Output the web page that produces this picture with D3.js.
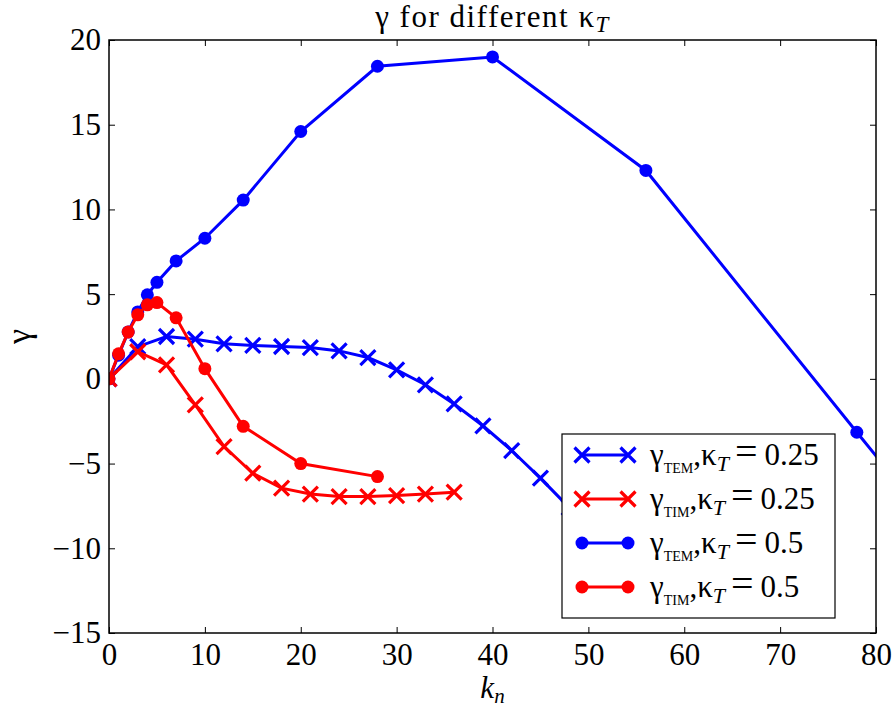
<!DOCTYPE html>
<meta charset="utf-8">
<head>
<style>
  body { margin: 0; background: #fff; }
  svg text { font-family: "Liberation Serif", "Times New Roman", Times, "DejaVu Serif", serif !important; }
</style>
</head>
<script src="https://d3js.org/d3.v7.min.js"></script>

<div id="chart"></div>

<script>
    // data
    var knTem25 = [0, 3, 6, 9, 12, 15, 18, 21, 24, 27, 30, 33, 36, 39, 42, 45, 48, 51];
    var gTem25 = [0, 1.9, 2.5, 2.34, 2.07, 1.97, 1.91, 1.85, 1.65, 1.26, 0.53, -0.35, -1.48, -2.77, -4.23, -5.86, -7.6, -9.4];

    var knTim25 = [0, 3, 6, 9, 12, 15, 18, 21, 24, 27, 30, 33, 36];
    var gTim25 = [0, 1.6, 0.83, -1.53, -4.0, -5.57, -6.45, -6.8, -6.95, -6.95, -6.89, -6.8, -6.69];

    var knTem5 = [0, 1, 2, 3, 4, 5, 7, 10, 14, 20, 28, 40, 56, 78, 90];
    var gTem5 = [0, 1.4, 2.77, 3.95, 4.96, 5.7, 6.96, 8.3, 10.55, 14.6, 18.45, 19.0, 12.3, -3.15, -11.5];

    var knTim5 = [0, 1, 2, 3, 4, 5, 7, 10, 14, 20, 28];
    var gTim5 = [0, 1.48, 2.76, 3.78, 4.37, 4.5, 3.6, 0.6, -2.8, -5.0, -5.77];

    var xTicks = [0, 10, 20, 30, 40, 50, 60, 70, 80];
    var yTicks = [-15, -10, -5, 0, 5, 10, 15, 20];

    var series = [
        {kn: knTem25, g: gTem25, color: '#0000ff', marker: 'x', sub: 'TEM', kt: '0.25'},
        {kn: knTim25, g: gTim25, color: '#ff0000', marker: 'x', sub: 'TIM', kt: '0.25'},
        {kn: knTem5, g: gTem5, color: '#0000ff', marker: 'o', sub: 'TEM', kt: '0.5'},
        {kn: knTim5, g: gTim5, color: '#ff0000', marker: 'o', sub: 'TIM', kt: '0.5'}
    ];

    var serif = '"Liberation Serif", "Times New Roman", Times, serif';

    var margin = {top: 40, right: 20, bottom: 76, left: 109},
        W = 896, H = 709,
        width = W - margin.left - margin.right,
        height = H - margin.top - margin.bottom;

    var svg = d3.select('#chart').append('svg')
        .attr('width', W)
        .attr('height', H)
        .attr('font-family', serif);

    var g = svg.append('g')
        .attr('transform', 'translate(' + margin.left + ',' + margin.top + ')');

    var x = d3.scaleLinear().domain([0, 80]).range([0, width]);
    var y = d3.scaleLinear().domain([-15, 20]).range([height, 0]);

    svg.append('defs').append('clipPath').attr('id', 'clip')
        .append('rect').attr('width', width).attr('height', height);

    var fmt = function(d) { return d < 0 ? '\u2212' + Math.abs(d) : '' + d; };

    // ticks on all sides, pointing inwards
    g.append('g').attr('transform', 'translate(0,' + height + ')')
        .call(d3.axisBottom(x).tickValues(xTicks).tickSize(-6).tickPadding(10).tickFormat(fmt));
    g.append('g')
        .call(d3.axisTop(x).tickValues(xTicks).tickSize(-6).tickFormat(''));
    g.append('g')
        .call(d3.axisLeft(y).tickValues(yTicks).tickSize(-6).tickPadding(8).tickFormat(fmt));
    g.append('g').attr('transform', 'translate(' + width + ',0)')
        .call(d3.axisRight(y).tickValues(yTicks).tickSize(-6).tickFormat(''));

    g.selectAll('.domain').remove();
    g.selectAll('.tick line').attr('stroke', '#000').attr('stroke-width', 1);
    g.selectAll('g').attr('font-family', serif).attr('font-size', 31);
    g.selectAll('.tick text').attr('fill', '#000');

    var plot = g.append('g').attr('clip-path', 'url(#clip)');

    var line = d3.line()
        .x(function(d) { return x(d[0]); })
        .y(function(d) { return y(d[1]); });

    function drawMarker(sel, marker, color, r) {
        if (marker === 'o') {
            sel.append('circle').attr('r', r).attr('fill', color);
        } else {
            sel.append('path')
                .attr('d', 'M' + (-r) + ',' + (-r) + 'L' + r + ',' + r + 'M' + (-r) + ',' + r + 'L' + r + ',' + (-r))
                .attr('stroke', color)
                .attr('stroke-width', 3.2)
                .attr('fill', 'none');
        }
    }

    series.forEach(function(s) {
        var pts = s.kn.map(function(k, i) { return [k, s.g[i]]; });
        var grp = plot.append('g');
        grp.append('path')
            .datum(pts)
            .attr('d', line)
            .attr('fill', 'none')
            .attr('stroke', s.color)
            .attr('stroke-width', 3);
        grp.selectAll('g.m').data(pts).enter().append('g')
            .attr('transform', function(d) { return 'translate(' + x(d[0]) + ',' + y(d[1]) + ')'; })
            .each(function() { drawMarker(d3.select(this), s.marker, s.color, s.marker === 'o' ? 6.5 : 7.5); });
    });

    // frame
    g.append('rect')
        .attr('width', width).attr('height', height)
        .attr('fill', 'none').attr('stroke', '#000').attr('stroke-width', 1.5);

    // legend
    var lg = g.append('g').attr('transform', 'translate(' + (562 - margin.left) + ',' + (434 - margin.top) + ')');
    lg.append('rect').attr('width', 273).attr('height', 184)
        .attr('fill', '#fff').attr('stroke', '#000').attr('stroke-width', 1.2);

    series.forEach(function(s, i) {
        var ry = 21 + i * 44;
        lg.append('line').attr('x1', 20).attr('x2', 66).attr('y1', ry).attr('y2', ry)
            .attr('stroke', s.color).attr('stroke-width', 3);
        [20, 66].forEach(function(mx) {
            var m = lg.append('g').attr('transform', 'translate(' + mx + ',' + ry + ')');
            drawMarker(m, s.marker, s.color, s.marker === 'o' ? 6.5 : 7.5);
        });
        var t = lg.append('text').attr('x', 88).attr('y', ry + 10)
            .attr('font-size', 31).attr('fill', '#000');
        t.append('tspan').text('\u03b3');
        t.append('tspan').attr('dy', 8).attr('font-size', 14).text(s.sub);
        t.append('tspan').attr('dy', -8).text(',\u03ba');
        t.append('tspan').attr('dy', 6).attr('font-size', 22).attr('font-style', 'italic').text('T');
        t.append('tspan').attr('dy', -6).attr('dx', 6).attr('font-size', 40).text('=');
        t.append('tspan').attr('dx', 7).text(s.kt);
    });

    // title
    var title = svg.append('text')
        .attr('x', margin.left + width / 2).attr('y', 27)
        .attr('text-anchor', 'middle')
        .attr('font-size', 31)
        .attr('letter-spacing', 1.5);
    title.append('tspan').text('\u03b3 for different \u03ba');
    title.append('tspan').attr('dy', 5).attr('font-size', 23).attr('font-style', 'italic').text('T');

    // axis labels
    var xl = svg.append('text')
        .attr('x', margin.left + width / 2).attr('y', 698)
        .attr('text-anchor', 'middle')
        .attr('font-size', 31);
    xl.append('tspan').attr('font-style', 'italic').text('k');
    xl.append('tspan').attr('dy', 5).attr('font-size', 21).attr('font-style', 'italic').text('n');

    svg.append('text')
        .attr('transform', 'translate(30,' + (margin.top + height / 2) + ') rotate(-90)')
        .attr('text-anchor', 'middle')
        .attr('font-size', 34)
        .text('\u03b3');
</script>
